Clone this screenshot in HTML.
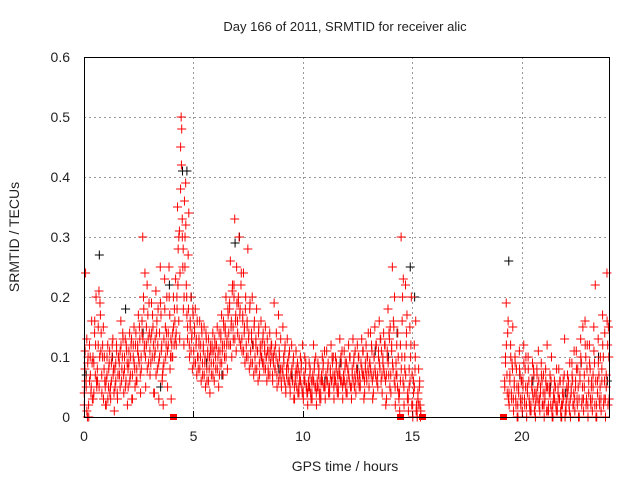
<!DOCTYPE html>
<html><head><meta charset="utf-8"><style>
body{margin:0;background:#fff;}
svg{display:block;font-family:"Liberation Sans",sans-serif;}
</style></head><body>
<svg id="chart" width="640" height="480" viewBox="0 0 640 480">
<text x="345" y="31" font-size="13" text-anchor="middle" fill="#222">Day 166 of 2011, SRMTID for receiver alic</text>
<text transform="translate(19,237) rotate(-90)" font-size="14" text-anchor="middle" fill="#222">SRMTID / TECUs</text>
<text x="345" y="471" font-size="14" text-anchor="middle" fill="#222">GPS time / hours</text>
<g id="grid"></g>
<g id="ticks"></g>
<g id="black"></g>
<g id="red"></g>
<g id="gaps"></g>
<rect x="84.5" y="57.5" width="525" height="360" fill="none" stroke="#000" stroke-width="1"/>
</svg>
<script>
const xTicks=[0,5,10,15,20];
const yTicks=[0,0.1,0.2,0.3,0.4,0.5,0.6];
const yTickLabels=["0","0.1","0.2","0.3","0.4","0.5","0.6"];
const gapTimes=[4.07,14.45,15.45,19.15];
const redTimes=[0,0.2,0.4,0.6,0.8,1.0,1.2,1.4,1.6,1.8,2.0,2.2,2.4,2.6,2.8,3.0,3.2,3.4,3.6,3.8,4.0,4.2,4.4,4.6,4.8,5.0,5.2,5.4,5.6,5.8,6.0,6.2,6.4,6.6,6.8,7.0,7.2,7.4,7.6,7.8,8.0,8.2,8.4,8.6,8.8,9.0,9.2,9.4,9.6,9.8,10.0,10.2,10.4,10.6,10.8,11.0,11.2,11.4,11.6,11.8,12.0,12.2,12.4,12.6,12.8,13.0,13.2,13.4,13.6,13.8,14.0,14.2,14.4,14.6,14.8,15.0,15.2,19.2,19.4,19.6,19.8,20.0,20.2,20.4,20.6,20.8,21.0,21.2,21.4,21.6,21.8,22.0,22.2,22.4,22.6,22.8,23.0,23.2,23.4,23.6,23.8];
const redValues=[
[.02,.08,.24,.05,.13,.0,.1],[.0,.06,.1,.04,.16,.03],[.03,.09,.14,.07,.2,.05],[.06,.12,.21,.1,.17,.14],[.04,.1,.15,.08,.06,.02],
[.02,.07,.12,.05,.09,.04],[.03,.06,.1,.13,.08,.01],[.05,.09,.12,.04,.07,.1],[.07,.11,.16,.06,.1,.13],[.04,.08,.13,.06,.11,.02],
[.05,.09,.14,.07,.12,.03],[.03,.1,.15,.08,.12,.06],[.06,.11,.17,.09,.13,.04],[.08,.14,.3,.2,.11,.24],[.05,.12,.22,.17,.09,.14],
[.07,.13,.19,.1,.15,.04],[.04,.11,.21,.14,.08,.18],[.03,.1,.25,.17,.12,.07],[.02,.09,.23,.15,.12,.2],[.05,.12,.25,.17,.1,.03],
[.1,.14,.2,.12,.16,.23],[.12,.2,.35,.28,.16,.31,.24],[.45,.5,.48,.33,.25,.18,.12,.36],[.3,.39,.22,.17,.13,.27,.34],[.1,.15,.2,.13,.08,.17],
[.09,.14,.18,.12,.07,.1],[.08,.12,.16,.1,.06,.14],[.07,.11,.15,.09,.05,.13],[.06,.1,.13,.08,.04,.11],[.07,.11,.14,.09,.06,.12],
[.08,.12,.15,.1,.05,.07],[.09,.13,.17,.11,.07,.15],[.1,.14,.2,.12,.08,.17],[.12,.18,.26,.15,.1,.22],[.13,.22,.33,.16,.11,.19],
[.14,.2,.3,.17,.12,.24],[.11,.17,.24,.14,.09,.2],[.1,.16,.28,.13,.08,.19],[.09,.14,.2,.12,.07,.16],[.08,.13,.18,.11,.06,.15],
[.07,.12,.16,.1,.09,.14],[.08,.12,.15,.1,.06,.11],[.07,.11,.14,.09,.12,.1],[.06,.1,.19,.08,.12,.14],[.05,.09,.17,.11,.07,.13],
[.05,.08,.15,.1,.06,.12],[.04,.08,.13,.06,.1,.11],[.04,.07,.12,.06,.09,.03],[.03,.07,.11,.05,.09,.08],[.04,.06,.1,.08,.05,.12],
[.03,.06,.1,.08,.05,.04],[.02,.05,.09,.07,.04,.06],[.03,.06,.12,.08,.05,.1],[.02,.05,.09,.07,.04,.06],[.03,.06,.1,.08,.05,.11],
[.03,.07,.11,.06,.09,.05],[.04,.07,.12,.06,.09,.1],[.03,.06,.1,.08,.05,.07],[.04,.07,.13,.06,.09,.11],[.03,.06,.11,.08,.05,.09],
[.04,.08,.12,.06,.1,.05],[.03,.07,.13,.09,.05,.11],[.04,.08,.12,.06,.1,.07],[.05,.09,.13,.07,.11,.03],[.04,.08,.12,.06,.1,.14],
[.05,.09,.14,.07,.11,.03],[.04,.1,.15,.07,.12,.06],[.05,.1,.16,.08,.13,.11],[.04,.09,.14,.07,.12,.02],[.03,.1,.18,.07,.13,.15],
[.04,.11,.25,.08,.15,.2],[.02,.07,.12,.05,.1,.03],[.01,.06,.3,.1,.2,.23],[.02,.08,.22,.12,.17,.04],[.01,.05,.15,.1,.2,.07],
[.0,.04,.12,.08,.16,.02],[.0,.03,.08,.05,.02,.01],
[.05,.1,.19,.07,.14,.03],[.02,.06,.12,.04,.09,.15],[.01,.05,.1,.03,.08,.0],[.0,.04,.11,.07,.02,.06],[.01,.05,.12,.03,.08,.1],
[.0,.04,.1,.06,.02,.01],[.01,.05,.09,.03,.07,.04],[.0,.03,.08,.05,.11,.02],[.01,.04,.09,.06,.02,.07],[.0,.03,.08,.05,.12,.01],
[.01,.04,.07,.02,.1,.0],[.0,.03,.06,.05,.02,.08],[.01,.04,.08,.03,.06,.0],[.0,.02,.06,.04,.13,.01],[.01,.03,.07,.05,.02,.09],
[.0,.04,.09,.06,.02,.11],[.01,.05,.11,.03,.08,.0],[.0,.06,.13,.09,.03,.15],[.01,.05,.16,.1,.03,.12],[.0,.04,.12,.08,.02,.06],
[.01,.05,.15,.09,.22,.0],[.0,.04,.13,.07,.02,.1],[.01,.06,.17,.1,.03,.14],[.0,.05,.24,.12,.15,.03]];
const redValues2=[
[.04,.11,.06,.01,.09],[.02,.12,.07,.05,.09],[.1,.04,.16,.12,.06],[.08,.15,.05,.19,.11],[.07,.12,.03,.1,.05],
[.06,.1,.03,.08,.11],[.05,.09,.12,.07,.04],[.08,.06,.11,.03,.1],[.09,.05,.12,.08,.14],[.07,.1,.05,.12,.09],
[.08,.11,.06,.1,.13],[.07,.12,.09,.05,.14],[.08,.12,.1,.15,.07],[.1,.16,.13,.18,.12],[.1,.15,.08,.13,.19],
[.11,.09,.14,.17,.12],[.1,.13,.07,.16,.12],[.09,.14,.19,.11,.06],[.08,.13,.18,.1,.14],[.11,.14,.2,.08,.13],
[.12,.1,.15,.18,.13],[.14,.18,.22,.3,.13],[.38,.42,.3,.28,.2],[.25,.32,.2,.15,.18],[.12,.16,.11,.14,.18],
[.11,.15,.09,.13,.16],[.1,.13,.08,.12,.15],[.09,.12,.07,.1,.14],[.08,.11,.06,.1,.12],[.09,.12,.07,.11,.13],
[.1,.12,.08,.11,.14],[.11,.14,.09,.12,.16],[.12,.15,.1,.13,.18],[.14,.19,.12,.16,.21],[.15,.2,.13,.17,.25],
[.16,.19,.13,.18,.22],[.13,.16,.11,.15,.18],[.12,.15,.1,.14,.18],[.11,.13,.09,.12,.15],[.1,.12,.08,.11,.14],
[.09,.11,.1,.12,.13],[.09,.11,.08,.1,.13],[.08,.1,.07,.11,.12],[.07,.09,.11,.08,.1],[.07,.09,.06,.1,.08],
[.06,.08,.07,.09,.11],[.05,.07,.09,.08,.06],[.05,.07,.08,.06,.1],[.05,.06,.08,.07,.04],[.05,.07,.06,.09,.04],
[.04,.07,.06,.09,.05],[.04,.06,.05,.08,.03],[.04,.07,.06,.09,.05],[.04,.06,.05,.08,.03],[.04,.07,.06,.09,.05],
[.05,.07,.06,.08,.04],[.05,.08,.06,.1,.07],[.05,.07,.06,.09,.04],[.05,.08,.07,.1,.06],[.05,.07,.06,.09,.04],
[.06,.08,.07,.1,.05],[.05,.08,.06,.1,.07],[.06,.08,.07,.1,.05],[.06,.09,.08,.11,.07],[.06,.09,.07,.1,.08],
[.07,.09,.08,.12,.06],[.07,.1,.08,.12,.06],[.07,.11,.09,.13,.06],[.07,.1,.08,.12,.06],[.07,.11,.09,.14,.05],
[.07,.12,.09,.16,.06],[.05,.09,.07,.14,.04],[.04,.12,.08,.16,.06],[.05,.1,.07,.14,.03],[.03,.08,.06,.12,.02],
[.02,.06,.05,.1,.01],[.01,.04,.02,.06,.0],
[.06,.09,.12,.04,.16],[.04,.07,.1,.03,.08],[.03,.06,.09,.02,.05],[.02,.05,.08,.03,.06],[.03,.06,.09,.02,.05],
[.02,.05,.08,.03,.01],[.02,.06,.04,.08,.01],[.02,.04,.07,.03,.06],[.03,.05,.07,.02,.04],[.02,.04,.06,.01,.05],
[.02,.05,.04,.06,.01],[.02,.04,.03,.05,.01],[.02,.05,.03,.06,.01],[.02,.04,.03,.07,.0],[.02,.05,.04,.06,.01],
[.03,.05,.07,.02,.04],[.03,.06,.08,.02,.05],[.03,.07,.1,.02,.05],[.03,.07,.12,.02,.08],[.02,.06,.09,.03,.05],
[.03,.07,.11,.02,.06],[.02,.06,.09,.03,.05],[.03,.08,.12,.02,.06],[.03,.07,.16,.02,.1]];
const blackTimes=[0.1,0.7,1.3,1.9,2.7,3.5,3.9,4.5,4.7,4.9,5.6,6.3,6.9,7.1,7.7,8.1,8.9,9.5,10.3,11.0,11.7,12.5,13.3,13.9,14.3,14.9,15.1,19.4,19.9,20.5,21.3,22.0,22.7,23.5,23.9];
const blackValues=[.07,.27,.1,.18,.14,.05,.22,.41,.41,.2,.09,.07,.29,.3,.12,.1,.08,.07,.05,.06,.09,.08,.11,.1,.14,.25,.2,.26,.07,.06,.05,.04,.09,.1,.06];
const X=t=>84+t*525.5/24, Y=v=>417-v*600;
const NS="http://www.w3.org/2000/svg";
function mk(tag,attrs,parent){const e=document.createElementNS(NS,tag);for(const k in attrs)e.setAttribute(k,attrs[k]);parent.appendChild(e);return e;}
const grid=document.getElementById('grid'),ticks=document.getElementById('ticks');
xTicks.forEach(t=>{
  const gx=Math.round(X(t))+0.5;
  if(t>0){const l=mk('line',{x1:gx,x2:gx,y1:57,y2:417,stroke:'#999','stroke-dasharray':'2,3'},grid);
  
  }
  const tk=mk('line',{x1:gx,x2:gx,y1:417,y2:411,stroke:'#000'},grid);
  
  
  const tx=mk('text',{x:X(t),y:441,'font-size':14,'text-anchor':'middle',fill:'#222'},ticks);tx.textContent=t;
  
  
});
yTicks.forEach((v,i)=>{
  const gy=Math.round(Y(v))+0.5;
  if(v>0&&v<0.6){const l=mk('line',{x1:84,x2:609.5,y1:gy,y2:gy,stroke:'#999','stroke-dasharray':'2,3'},grid);
  
  }
  const tx=mk('text',{x:70,y:Y(v)+5,'font-size':14,'text-anchor':'end',fill:'#222'},ticks);tx.textContent=yTickLabels[i];
  
  
});
function plus(g,t,v,c,name){
  const x=X(t),y=Y(v);
  const p=mk('path',{d:`M${x-4.5},${y}H${x+4.5}M${x},${y-4.5}V${y+4.5}`,stroke:c,'stroke-width':1,fill:'none'},g);
  
  
}
const bg=document.getElementById('black');
blackTimes.forEach((t,i)=>plus(bg,t,blackValues[i],'#000','black-point'));
const rg=document.getElementById('red');
redTimes.forEach((t,i)=>{const vs=redValues[i];vs.forEach((v,j)=>plus(rg,t+(j+0.5)*0.2/vs.length,v,'#f00','red-point'));});
redTimes.forEach((t,i)=>{const vs=redValues2[i];vs.forEach((v,j)=>plus(rg,t+(j+0.25)*0.2/vs.length,v,'#f00','red-point'));});
const gg=document.getElementById('gaps');
gapTimes.forEach(t=>{const r=mk('rect',{x:Math.round(X(t))-3,y:414,width:7,height:6,fill:'#f00'},gg);
  
  });
</script>
</body></html>
